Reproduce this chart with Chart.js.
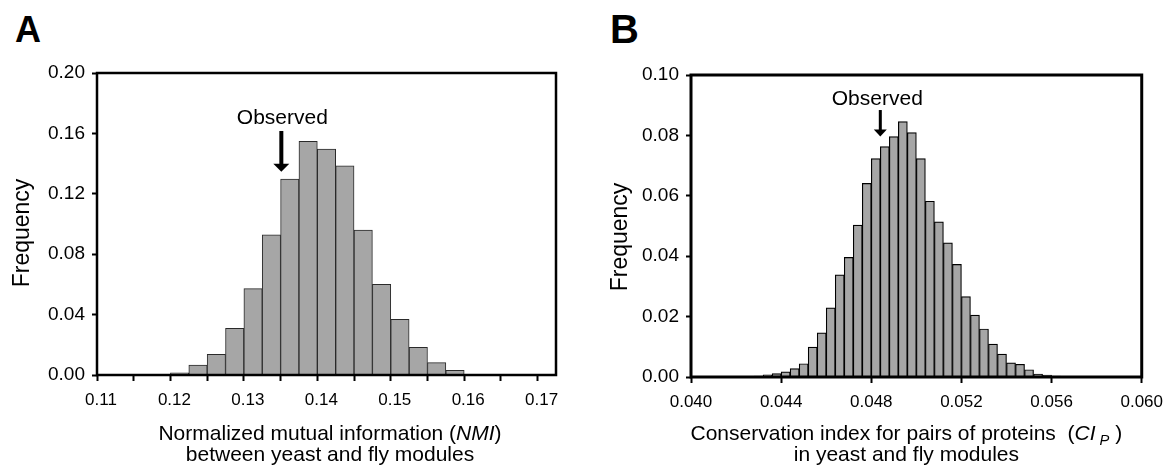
<!DOCTYPE html>
<html>
<head>
<meta charset="utf-8">
<script src="https://cdn.jsdelivr.net/npm/chart.js@4"></script>
<style>
body{margin:0;background:#fff;width:1172px;height:471px;position:relative;overflow:hidden;font-family:"Liberation Sans",Arial,sans-serif}
canvas{position:absolute;top:0}
#chartA{left:0}
#chartB{left:586px}
.tag{position:absolute;font-weight:bold;line-height:1;color:#000}
</style>
</head>
<body>
<div class="tag" style="left:15px;top:12px;font-size:36px">A</div>
<div class="tag" style="left:610px;top:9px;font-size:40px">B</div>
<canvas id="chartA" width="586" height="471"></canvas>
<canvas id="chartB" width="586" height="471"></canvas>
<script>
// panel A - NMI between yeast and fly modules
let binEdgesA = [0.1200, 0.1225, 0.1250, 0.1275, 0.1300, 0.1325, 0.1350, 0.1375,
                 0.1400, 0.1425, 0.1450, 0.1475, 0.1500, 0.1525, 0.1550, 0.1575];
let freqA = [0.0015, 0.0066, 0.0137, 0.0309, 0.0572, 0.0928, 0.1297, 0.1547,
             0.1496, 0.1386, 0.0959, 0.0601, 0.0369, 0.0183, 0.0082, 0.0031];
let binWidthA = 0.0025;
let xTicksA = [0.11, 0.115, 0.12, 0.125, 0.13, 0.135, 0.14, 0.145, 0.15, 0.155, 0.16, 0.165, 0.17];
let xLabelsA = ['0.11', '', '0.12', '', '0.13', '', '0.14', '', '0.15', '', '0.16', '', '0.17'];
let yTicksA = [0, 0.04, 0.08, 0.12, 0.16, 0.20];
let yLabelsA = ['0.00', '0.04', '0.08', '0.12', '0.16', '0.20'];
let observedA = {x: 0.1351, top: 0.1616, tip: 0.1346, text: 0.1662};

// panel B - conservation index CI_P
let binEdgesB = [0.0424, 0.0428, 0.0432, 0.0436, 0.0440, 0.0444, 0.0448, 0.0452, 0.0456, 0.0460,
                 0.0464, 0.0468, 0.0472, 0.0476, 0.0480, 0.0484, 0.0488, 0.0492, 0.0496, 0.0500,
                 0.0504, 0.0508, 0.0512, 0.0516, 0.0520, 0.0524, 0.0528, 0.0532, 0.0536, 0.0540,
                 0.0544, 0.0548, 0.0552, 0.0556, 0.0560, 0.0564, 0.0568, 0.0572, 0.0576];
let freqB = [0.0001, 0.0003, 0.0007, 0.0011, 0.0017, 0.0028, 0.0044, 0.0099, 0.0146, 0.0229,
             0.0338, 0.0396, 0.0503, 0.0641, 0.0723, 0.0763, 0.0796, 0.0846, 0.0809, 0.0723,
             0.0582, 0.0514, 0.0444, 0.0373, 0.0266, 0.0205, 0.0159, 0.0109, 0.0076, 0.0047,
             0.0042, 0.0024, 0.0010, 0.0006, 0.0003, 0.0002, 0.0001, 0.0001, 0.0001];
let binWidthB = 0.0004;
let xTicksB = [0.040, 0.044, 0.048, 0.052, 0.056, 0.060];
let xLabelsB = ['0.040', '0.044', '0.048', '0.052', '0.056', '0.060'];
let yTicksB = [0, 0.02, 0.04, 0.06, 0.08, 0.10];
let yLabelsB = ['0.00', '0.02', '0.04', '0.06', '0.08', '0.10'];
let observedB = {x: 0.0484, top: 0.0884, tip: 0.0796, text: 0.0901};

let FONT = '"Liberation Sans", Arial, sans-serif';

// draws a line made of plain / italic / subscript pieces, centred on cx
let drawRich = (ctx, parts, cx, y, size) => {
    let fontOf = p => (p.it ? 'italic ' : '') + (p.sub ? size * 0.7 : size) + 'px ' + FONT;
    let total = 0;
    for (let p of parts) { ctx.font = fontOf(p); total += ctx.measureText(p.t).width; }
    let x = cx - total / 2;
    ctx.textAlign = 'left';
    ctx.textBaseline = 'alphabetic';
    for (let p of parts) {
        ctx.font = fontOf(p);
        ctx.fillText(p.t, x, p.sub ? y + size * 0.22 : y);
        x += ctx.measureText(p.t).width;
    }
}

let histDecor = {
    id: 'histDecor',
    afterDraw(chart, args, o) {
        let {ctx, chartArea: a, scales: {x, y}} = chart;
        ctx.save();
        ctx.strokeStyle = '#000';
        ctx.lineWidth = o.frame;
        ctx.strokeRect(a.left, a.top, a.right - a.left, a.bottom - a.top);

        // observed arrow
        let ax = x.getPixelForValue(o.obs.x);
        let yTop = y.getPixelForValue(o.obs.top);
        let yTip = y.getPixelForValue(o.obs.tip);
        ctx.fillStyle = '#000';
        ctx.fillRect(ax - o.shaft / 2, yTop, o.shaft, yTip - yTop - o.headH + 1);
        ctx.beginPath();
        ctx.moveTo(ax - o.headW / 2, yTip - o.headH);
        ctx.lineTo(ax + o.headW / 2, yTip - o.headH);
        ctx.lineTo(ax, yTip);
        ctx.closePath();
        ctx.fill();
        drawRich(ctx, [{t: 'Observed'}], ax + o.textDx, y.getPixelForValue(o.obs.text), 21);

        // x axis title
        let cx = (a.left + a.right) / 2 + o.titleDx;
        o.title.forEach((line, i) => drawRich(ctx, line, cx, a.bottom + o.titleY[i], 21));

        // y axis title
        ctx.translate(o.yTitleX, (a.top + a.bottom) / 2 + o.yTitleDy);
        ctx.rotate(-Math.PI / 2);
        ctx.font = '23px ' + FONT;
        ctx.textAlign = 'center';
        ctx.textBaseline = 'middle';
        ctx.fillText('Frequency', 0, 0);
        ctx.restore();
    }
};

let makeHist = (id, s) => {
    let points = s.edges.map((e, i) => ({x: e + s.width / 2, y: s.freq[i]}));
    return new Chart(document.getElementById(id), {
        type: 'bar',
        data: {
            datasets: [{
                data: points,
                backgroundColor: '#a6a6a6',
                borderColor: s.border,
                borderWidth: s.borderWidth,
                barPercentage: 1,
                categoryPercentage: 1
            }]
        },
        options: {
            responsive: false,
            animation: false,
            layout: {padding: s.padding},
            plugins: {
                legend: {display: false},
                tooltip: {enabled: false},
                histDecor: s.decor
            },
            scales: {
                x: {
                    type: 'linear',
                    offset: false,
                    min: s.xMin,
                    max: s.xMax,
                    afterBuildTicks: ax => { ax.ticks = s.xTicks.map(v => ({value: v})); },
                    afterFit: ax => { ax.height = s.xHeight; },
                    border: {display: false},
                    grid: {offset: false, drawOnChartArea: false, tickLength: s.tickLen, tickWidth: 2, tickColor: '#000'},
                    ticks: {
                        autoSkip: false, maxRotation: 0, color: '#000',
                        padding: s.xPad, labelOffset: s.labelOffset,
                        font: {family: FONT, size: 17},
                        callback: (v, i) => s.xLabels[i]
                    }
                },
                y: {
                    min: 0,
                    max: s.yMax,
                    afterBuildTicks: ax => { ax.ticks = s.yTicks.map(v => ({value: v})); },
                    afterFit: ax => { ax.width = s.yWidth; },
                    border: {display: false},
                    grid: {drawOnChartArea: false, tickLength: 5, tickWidth: 2, tickColor: '#000'},
                    ticks: {
                        color: '#000', padding: s.yPad,
                        font: {family: FONT, size: 19},
                        callback: (v, i) => s.yLabels[i]
                    }
                }
            }
        },
        plugins: [histDecor]
    });
}

makeHist('chartA', {
    edges: binEdgesA, freq: freqA, width: binWidthA,
    xMin: 0.11, xMax: 0.1725, yMax: 0.2,
    xTicks: xTicksA, xLabels: xLabelsA, yTicks: yTicksA, yLabels: yLabelsA,
    border: '#2a2a2a', borderWidth: 1,
    padding: {top: 73, right: 30, left: 0, bottom: 0},
    xHeight: 96, yWidth: 97, tickLen: 6, xPad: 9, yPad: 7, labelOffset: 4,
    decor: {
        frame: 2.5, obs: observedA, shaft: 4, headW: 16, headH: 8, textDx: 1,
        title: [
            [{t: 'Normalized mutual information ('}, {t: 'NMI', it: true}, {t: ')'}],
            [{t: 'between yeast and fly modules'}]
        ],
        titleY: [64.5, 85.5], titleDx: 3.5, yTitleX: 23, yTitleDy: 9
    }
});

makeHist('chartB', {
    edges: binEdgesB, freq: freqB, width: binWidthB,
    xMin: 0.04, xMax: 0.06, yMax: 0.1,
    xTicks: xTicksB, xLabels: xLabelsB, yTicks: yTicksB, yLabels: yLabelsB,
    border: '#000', borderWidth: 1.2,
    padding: {top: 75, right: 20, left: 0, bottom: 0},
    xHeight: 94, yWidth: 105, tickLen: 6, xPad: 9, yPad: 7, labelOffset: 0,
    decor: {
        frame: 3, obs: observedB, shaft: 3, headW: 13, headH: 7, textDx: -3,
        title: [
            [{t: 'Conservation index for pairs of proteins  ('}, {t: 'CI', it: true}, {t: ' P', it: true, sub: true}, {t: ' )'}],
            [{t: 'in yeast and fly modules'}]
        ],
        titleY: [63, 84], titleDx: -10, yTitleX: 35, yTitleDy: 11
    }
});
</script>
</body>
</html>
